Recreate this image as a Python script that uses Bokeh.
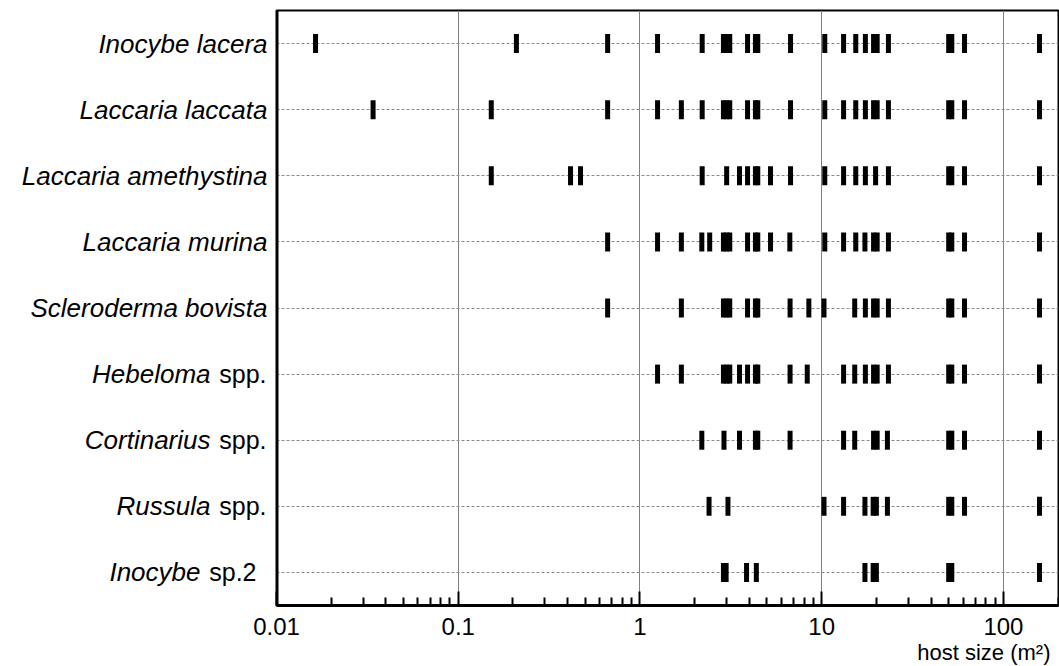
from bokeh.plotting import figure
from bokeh.layouts import row
from bokeh.models import (ColumnDataSource, Range1d, FixedTicker, CustomJSTickFormatter, Title, Span)
from bokeh.core.properties import value
from bokeh.embed import file_html
from bokeh.resources import INLINE

# ---- data ----
species_italic = ["Inocybe lacera", "Laccaria laccata", "Laccaria amethystina", "Laccaria murina",
                  "Scleroderma bovista", "Hebeloma", "Cortinarius", "Russula", "Inocybe"]
species_suffix = ["", "", "", "", "", "spp.", "spp.", "spp.", "sp.2"]

inocybe_lacera = [0.0164, 0.209, 0.664, 1.25, 2.20, 2.88, 3.0, 3.12, 3.91, 4.32, 4.45, 6.74,
                  10.4, 13.2, 15.4, 17.4, 19.3, 20.2, 23.3, 50.0, 52.0, 61.1, 158]
laccaria_laccata = [0.034, 0.152, 0.664, 1.25, 1.69, 2.20, 2.88, 3.0, 3.12, 3.91, 4.32, 4.45, 6.74,
                    10.4, 13.2, 15.4, 17.4, 19.3, 20.2, 23.3, 50.0, 52.0, 61.1, 158]
laccaria_amethystina = [0.152, 0.415, 0.471, 2.20, 3.0, 3.53, 3.91, 4.32, 4.45, 5.23, 6.74,
                        10.4, 13.2, 15.4, 17.4, 19.8, 23.3, 50.0, 52.0, 61.1, 158]
laccaria_murina = [0.664, 1.25, 1.69, 2.19, 2.42, 2.88, 3.0, 3.12, 3.91, 4.32, 4.45, 5.23, 6.68,
                   10.4, 13.2, 15.4, 17.3, 19.3, 20.2, 23.3, 50.0, 52.0, 61.1, 158]
scleroderma_bovista = [0.664, 1.69, 2.88, 3.0, 3.12, 3.91, 4.32, 4.45, 6.7, 8.5, 10.3,
                       15.2, 17.4, 19.3, 20.2, 23.3, 50.0, 52.0, 61.1, 158]
hebeloma = [1.25, 1.69, 2.88, 3.0, 3.12, 3.53, 3.91, 4.32, 4.45, 6.7, 8.33,
            13.2, 15.2, 17.4, 19.3, 20.2, 23.3, 50.0, 52.0, 61.1, 158]
cortinarius = [2.19, 2.90, 3.53, 4.32, 4.45, 6.7, 13.2, 15.2, 19.3, 20.2, 23.0, 50.0, 52.0, 61.1, 158]
russula = [2.40, 3.05, 10.3, 13.2, 17.3, 19.2, 20.0, 23.0, 50.0, 52.0, 61.1, 158]
inocybe_sp2 = [2.88, 2.98, 3.86, 4.37, 17.3, 19.2, 20.0, 50.0, 52.0, 158]

rows = [inocybe_lacera, laccaria_laccata, laccaria_amethystina, laccaria_murina,
        scleroderma_bovista, hebeloma, cortinarius, russula, inocybe_sp2]

major_ticks = [0.01, 0.1, 1, 10, 100]
x_label = "host size (m\u00b2)"

# ---- build ----
xs, ys = [], []
for i, vals in enumerate(rows):
    for v in vals:
        xs.append(v)
        ys.append(i + 1)
src = ColumnDataSource(dict(x=xs, y=ys))

FONT = "Liberation Sans"
LEFT_W = 276
OVERLAP = 34
TOP, BOTTOM = 10, 61

yr = Range1d(len(rows) + 0.5, 0.5)

p = figure(width=1059 - LEFT_W + OVERLAP, height=666, x_axis_type="log",
           x_range=Range1d(0.01, 201), y_range=yr, y_axis_location=None,
           output_backend="svg", toolbar_location=None,
           min_border_left=OVERLAP, min_border_right=1, min_border_top=TOP, min_border_bottom=BOTTOM,
           margin=(0, 0, 0, -OVERLAP))
p.background_fill_color = "white"
p.border_fill_color = None
p.outline_line_color = "black"
p.outline_line_width = 2

minor = [k * m for m in [0.01, 0.1, 1, 10, 100] for k in range(2, 10) if k * m <= 200]
p.xaxis.ticker = FixedTicker(ticks=major_ticks, minor_ticks=minor)
p.xaxis.formatter = CustomJSTickFormatter(code="return tick.toString();")
p.xaxis.major_tick_in = 14
p.xaxis.major_tick_out = 0
p.xaxis.minor_tick_in = 8
p.xaxis.minor_tick_out = 0
p.xaxis.major_tick_line_width = 2
p.xaxis.minor_tick_line_width = 2
p.xaxis.axis_line_width = 3
p.xaxis.major_label_text_font = FONT
p.xaxis.major_label_text_font_size = "24px"
p.xaxis.major_label_text_color = "black"
p.xaxis.major_label_standoff = 12

p.xgrid.ticker = FixedTicker(ticks=major_ticks)
p.xgrid.grid_line_color = "#808080"
p.xgrid.grid_line_width = 1
p.ygrid.ticker = FixedTicker(ticks=list(range(1, len(rows) + 1)))
p.ygrid.grid_line_color = "#8a8a8a"
p.ygrid.grid_line_dash = "3 2"
p.ygrid.grid_line_width = 1

p.add_layout(Span(location=0.01, dimension="height", line_color="black", line_width=4))

p.rect(x="x", y="y", width=5, height=19, width_units="screen", height_units="screen",
       fill_color="black", line_color=None, source=src)

p.add_layout(Title(text=x_label, align="right", text_font=FONT, text_font_size="22px",
                   text_font_style="normal", text_color="black", standoff=0, offset=8), "below")

# ---- label panel (shares the y range) ----
lab = figure(width=LEFT_W, height=666, x_range=Range1d(0, LEFT_W), y_range=yr,
             x_axis_location=None, y_axis_location=None, output_backend="svg",
             toolbar_location=None, min_border_left=0, min_border_right=0,
             min_border_top=TOP, min_border_bottom=BOTTOM)
lab.outline_line_color = None
lab.xgrid.visible = False
lab.ygrid.visible = False

full_names, full_y = [], []
mixed_names, mixed_suf, mixed_y = [], [], []
for i, (name, suf) in enumerate(zip(species_italic, species_suffix)):
    if suf:
        mixed_names.append(name); mixed_suf.append(suf); mixed_y.append(i + 1)
    else:
        full_names.append(name); full_y.append(i + 1)

lab.text(x=[267] * len(full_names), y=full_y, text=full_names, text_align="right",
         text_baseline="middle", text_font=value(FONT), text_font_size="26px",
         text_font_style="italic", text_color="black")
suf_x = [266 if s == "spp." else 256 for s in mixed_suf]
name_x = [210 if s == "spp." else 200 for s in mixed_suf]
lab.text(x=suf_x, y=mixed_y, text=mixed_suf, text_align="right",
         text_baseline="middle", text_font=value(FONT), text_font_size="25px",
         text_color="black")
lab.text(x=name_x, y=mixed_y, text=mixed_names, text_align="right",
         text_baseline="middle", text_font=value(FONT), text_font_size="26px",
         text_font_style="italic", text_color="black")

layout = row(lab, p)
open("out.html", "w").write(file_html(layout, INLINE))
